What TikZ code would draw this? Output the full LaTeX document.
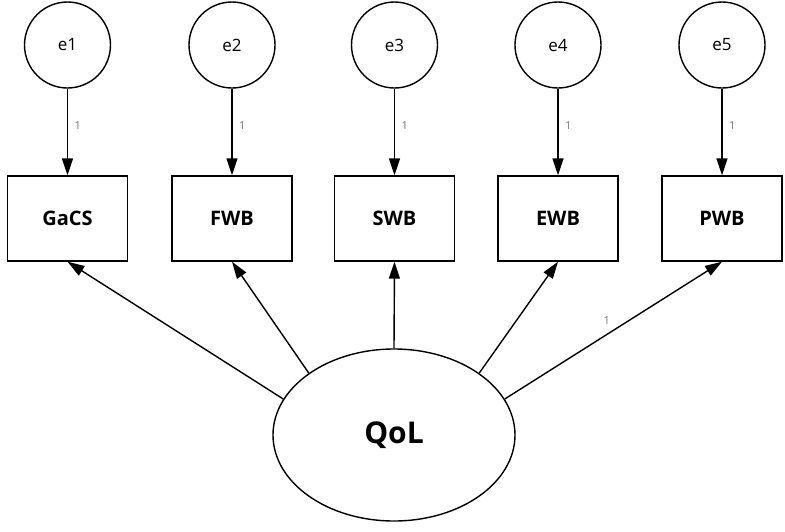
\documentclass[tikz,border=0pt]{standalone}
\usepackage{fontspec}
\setmainfont{Open Sans}
\usetikzlibrary{arrows.meta,shapes.geometric}

\begin{document}
\begin{tikzpicture}[x=1pt,y=-1pt,
  errc/.style={draw,circle,line width=1.4pt,minimum size=86pt,inner sep=0pt,
    font=\fontsize{17}{17}\selectfont},
  obsbox/.style={draw,rectangle,line width=1.4pt,minimum width=120pt,minimum height=85pt,
    font=\bfseries\fontsize{20}{20}\selectfont},
  arr/.style={line width=1.4pt,-{Triangle[length=17pt,width=11pt]}},
  wt/.style={font=\fontsize{11}{11}\selectfont,text=black!55}]
  \useasboundingbox (0,0) rectangle (785,531);
  \node[ellipse,draw,line width=1.4pt,minimum width=242pt,minimum height=172pt,
    font=\bfseries\fontsize{30}{30}\selectfont] (qol) at (394,435) {QoL};
  \foreach \n/\x/\lab in {1/67.5/GaCS,2/232/FWB,3/394.5/SWB,4/558/EWB,5/722/PWB}
  {
    \node[errc] (e\n) at (\x,45) {e\n};
    \node[obsbox] (m\n) at (\x,218.5) {\lab};
    \draw[arr] (e\n) -- node[wt,pos=0.42,right=3pt] {1} (m\n);
  }
  \draw[arr] (qol.162) -- (m1.south);
  \draw[arr] (qol.144) -- (m2.south);
  \draw[arr] (qol.90) -- (m3.south);
  \draw[arr] (qol.36) -- (m4.south);
  \draw[arr] (qol.18) -- node[wt,pos=0.47,above=6pt] {1} (m5.south);
\end{tikzpicture}
\end{document}
